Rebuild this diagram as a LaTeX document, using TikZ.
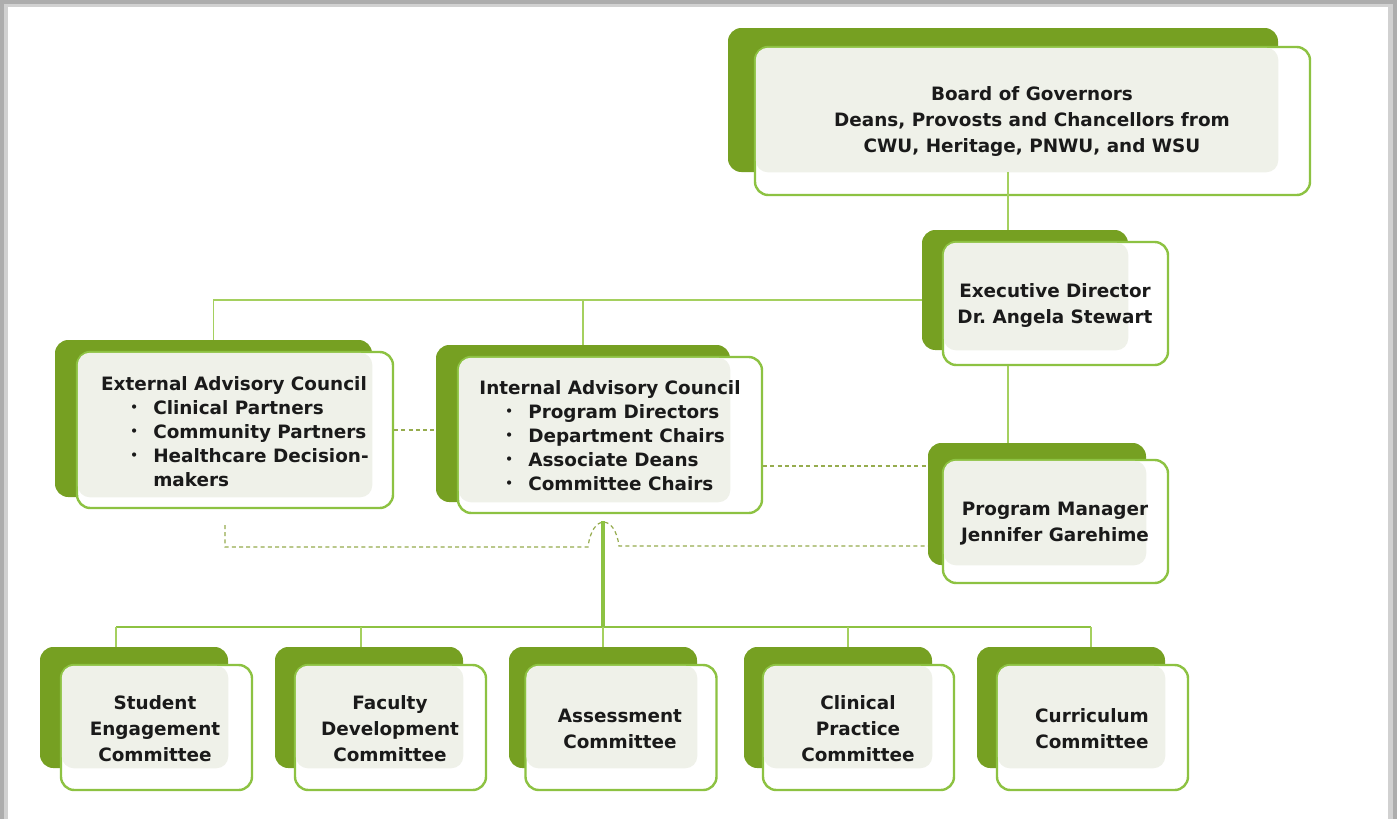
\documentclass[tikz,border=0pt]{standalone}
\usepackage{fontspec}
\setmainfont{DejaVu Sans}
\usepackage{tikz}

\definecolor{leafdark}{RGB}{118,160,34}
\definecolor{leafline}{RGB}{141,194,66}
\definecolor{leafthin}{RGB}{165,208,95}
\definecolor{tintgray}{RGB}{239,241,233}
\definecolor{dashcol}{RGB}{150,172,78}
\definecolor{inkgray}{RGB}{26,26,26}

\newcommand{\listdot}{\raisebox{0.2ex}{\fontsize{9}{9}\selectfont•}}

\tikzset{
  backcard/.style={draw=none, fill=leafdark, rounded corners=10pt, inner sep=0pt},
  frontcard/.style={draw=leafline, line width=1.8pt, fill=white, rounded corners=10pt, inner sep=0pt},
  tint/.style={fill=tintgray, rounded corners=9pt},
  boxtext/.style={align=center, inner sep=0pt, text=inkgray, font=\bfseries\fontsize{13.8}{19.5}\selectfont},
  listtext/.style={inner sep=0pt, text=inkgray, font=\bfseries\fontsize{13.8}{18}\selectfont},
  link/.style={draw=leafthin, line width=1.1pt},
  dashlink/.style={draw=dashcol, line width=0.9pt, dash pattern=on 3pt off 2.4pt},
  spine/.style={draw=leafline, line width=2.3pt},
  busline/.style={draw=leafline, line width=1.9pt}
}

\begin{document}
\begin{tikzpicture}[x=0.75pt,y=0.75pt,yscale=-1,xscale=1]
\useasboundingbox (0,0) rectangle (1397,819);

%Shape: frame with grey edge
\fill[black!32] (0,0) rectangle (1397,819);
\fill[black!18] (4,4) rectangle (1393,819);
\fill[white] (8,7) rectangle (1388,819);

%Shape: Board of Governors
\node[backcard, minimum width=412.5pt, minimum height=108pt] (bogB) at (1003,100) {};
\node[frontcard, minimum width=416.25pt, minimum height=111pt] (bogF) at (1032.5,121) {};
\fill[tint] ([shift={(2,2)}]bogF.north west) rectangle (bogB.south east);
% Text Node
\node[boxtext] (bog) at (1032,121) {Board of Governors\\Deans, Provosts and Chancellors from\\CWU, Heritage, PNWU, and WSU};

%Shape: Executive Director
\node[backcard, minimum width=154.5pt, minimum height=90pt] (execB) at (1025,290) {};
\node[frontcard, minimum width=168.75pt, minimum height=92.25pt] (execF) at (1055.5,303.5) {};
\fill[tint] ([shift={(2,2)}]execF.north west) rectangle (execB.south east);
% Text Node
\node[boxtext] (exec) at (1055,305) {Executive Director\\Dr.\ Angela Stewart};

%Shape: External Advisory Council
\node[backcard, minimum width=237.75pt, minimum height=117.75pt] (extB) at (213.5,418.5) {};
\node[frontcard, minimum width=237pt, minimum height=117pt] (extF) at (235,430) {};
\fill[tint] ([shift={(2,2)}]extF.north west) rectangle (extB.south east);
% Text Node
\node[boxtext, anchor=base] (ext) at (234,390) {External Advisory Council};
\node[listtext, anchor=base west] (extList) at (130,414) {\begin{tabular}[t]{@{}l@{\hspace{11.5pt}}l@{}}
\listdot&Clinical Partners\\
\listdot&Community Partners\\
\listdot&Healthcare Decision-\\
&makers
\end{tabular}};

%Shape: Internal Advisory Council
\node[backcard, minimum width=220.5pt, minimum height=117.75pt] (intB) at (583,423.5) {};
\node[frontcard, minimum width=228pt, minimum height=117pt] (intF) at (610,435) {};
\fill[tint] ([shift={(2,2)}]intF.north west) rectangle (intB.south east);
% Text Node
\node[boxtext, anchor=base] (int) at (610,394) {Internal Advisory Council};
\node[listtext, anchor=base west] (intList) at (505,418) {\begin{tabular}[t]{@{}l@{\hspace{11.5pt}}l@{}}
\listdot&Program Directors\\
\listdot&Department Chairs\\
\listdot&Associate Deans\\
\listdot&Committee Chairs
\end{tabular}};

%Shape: Program Manager
\node[backcard, minimum width=163.5pt, minimum height=91.5pt] (pmB) at (1037,504) {};
\node[frontcard, minimum width=168.75pt, minimum height=92.25pt] (pmF) at (1055.5,521.5) {};
\fill[tint] ([shift={(2,2)}]pmF.north west) rectangle (pmB.south east);
% Text Node
\node[boxtext] (pm) at (1055,524) {Program Manager\\Jennifer Garehime};

%Shape: Student Engagement Committee
\node[backcard, minimum width=141pt, minimum height=90.75pt] (seB) at (134,707.5) {};
\node[frontcard, minimum width=143.25pt, minimum height=93.75pt] (seF) at (156.5,727.5) {};
\fill[tint] ([shift={(2,2)}]seF.north west) rectangle (seB.south east);
% Text Node
\node[boxtext] (se) at (155,729) {Student\\Engagement\\Committee};

%Shape: Faculty Development Committee
\node[backcard, minimum width=141pt, minimum height=90.75pt] (fdB) at (369,707.5) {};
\node[frontcard, minimum width=143.25pt, minimum height=93.75pt] (fdF) at (390.5,727.5) {};
\fill[tint] ([shift={(2,2)}]fdF.north west) rectangle (fdB.south east);
% Text Node
\node[boxtext] (fd) at (390,729) {Faculty\\Development\\Committee};

%Shape: Assessment Committee
\node[backcard, minimum width=141pt, minimum height=90.75pt] (asB) at (603,707.5) {};
\node[frontcard, minimum width=143.25pt, minimum height=93.75pt] (asF) at (621,727.5) {};
\fill[tint] ([shift={(2,2)}]asF.north west) rectangle (asB.south east);
% Text Node
\node[boxtext] (as) at (620,729) {Assessment\\Committee};

%Shape: Clinical Practice Committee
\node[backcard, minimum width=141pt, minimum height=90.75pt] (cpB) at (838,707.5) {};
\node[frontcard, minimum width=143.25pt, minimum height=93.75pt] (cpF) at (858.5,727.5) {};
\fill[tint] ([shift={(2,2)}]cpF.north west) rectangle (cpB.south east);
% Text Node
\node[boxtext] (cp) at (858,729) {Clinical\\Practice\\Committee};

%Shape: Curriculum Committee
\node[backcard, minimum width=141pt, minimum height=90.75pt] (cuB) at (1071,707.5) {};
\node[frontcard, minimum width=143.25pt, minimum height=93.75pt] (cuF) at (1092.5,727.5) {};
\fill[tint] ([shift={(2,2)}]cuF.north west) rectangle (cuB.south east);
% Text Node
\node[boxtext] (cu) at (1092,729) {Curriculum\\Committee};

% tap points
\coordinate (topTap) at (1008,0);
\coordinate (upper) at ([shift={(0,10)}]execB.west);
\coordinate (intRt) at ([shift={(0,31)}]intF.east);
\coordinate (extTap) at (225,525);
\coordinate (humpL) at (588,547);
\coordinate (humpR) at (619,546);
\coordinate (intTap) at (603,521);
\coordinate (busL) at (116,627);
\coordinate (busR) at (1091,627);
\coordinate (fdTap) at (361,627);
\coordinate (asTap) at (603,627);
\coordinate (cpTap) at (848,627);

%Straight Lines: board to executive director to program manager
\draw[link] (bogB.south -| topTap) -- (execB.north -| topTap);
\draw[link] (execF.south -| topTap) -- (pmB.north -| topTap);
%Straight Lines: executive director to the councils
\draw[link] (upper) -| (extB.north);
\draw[link] (intB.north |- upper) -- (intB.north);
%Dashed Lines
\draw[dashlink] (extF.east) -- (intB.west |- extF.east);
\draw[dashlink] (intRt) -- (pmB.west |- intRt);
\draw[dashlink] (extTap) -- (extTap |- humpL) -- (humpL) .. controls (592,514) and (615,514) .. (humpR) -- (pmB.west |- humpR);
%Straight Lines: internal council to committees
\draw[spine] (intTap) -- (intTap |- busL);
\draw[busline] (busL) -- (busR);
\draw[link] (busL) -- (busL |- seB.north);
\draw[link] (fdTap) -- (fdTap |- fdB.north);
\draw[link] (asTap) -- (asTap |- asB.north);
\draw[link] (cpTap) -- (cpTap |- cpB.north);
\draw[link] (busR) -- (busR |- cuB.north);

\end{tikzpicture}
\end{document}
